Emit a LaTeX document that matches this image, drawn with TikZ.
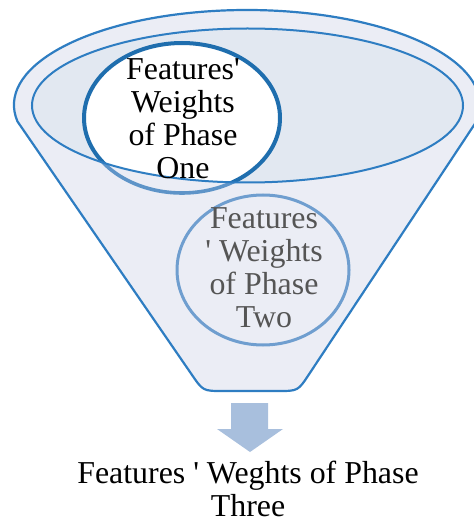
\documentclass[tikz,border=0pt]{standalone}
\usepackage{fontspec}
\setmainfont{Liberation Serif}[Ligatures=TeXOff]
\usetikzlibrary{calc}

\definecolor{funnelfill}{HTML}{EBEDF5}
\definecolor{rimfill}{HTML}{E2E8F1}
\definecolor{rimline}{HTML}{2E7DC2}
\definecolor{oneline}{HTML}{1F6EAE}
\definecolor{onelow}{HTML}{5E94C8}
\definecolor{twoline}{HTML}{6F9ECF}
\definecolor{twotext}{HTML}{555555}
\definecolor{arrowfill}{HTML}{A8BFDD}

\tikzset{
  rim/.style={draw=rimline, line width=2.2bp},
  label/.style={inner sep=0pt, align=center, font=\fontsize{32}{33.3}\selectfont},
}

\begin{document}
\begin{tikzpicture}[x=1bp, y=-1bp]
  \useasboundingbox (0,0) rectangle (474,524);

  % funnel body: upper arc of the mouth, two sides and a rounded spout
  \path[fill=funnelfill, rim]
    (17.5,121.5) arc[start angle=170, end angle=370, x radius=233, y radius=95]
    -- (309,374.3) .. controls (298,391) .. (278,391)
    -- (223,391) .. controls (203,391) .. (191.7,374.5)
    -- cycle;

  % lower part of the first bubble, seen through the funnel wall
  \coordinate (c1) at (182,118);
  \draw[draw=onelow, line width=3.6bp] (c1) ellipse[x radius=98, y radius=75];

  % mouth of the funnel
  \coordinate (mouth) at (247.5,105.5);
  \fill[rimfill] (mouth) ellipse[x radius=215.5, y radius=77];

  % first bubble inside the mouth
  \begin{scope}
    \clip (mouth) ellipse[x radius=215.5, y radius=77];
    \draw[fill=white, draw=oneline, line width=4bp] (c1) ellipse[x radius=98, y radius=75];
  \end{scope}
  \draw[rim, line width=2bp] (mouth) ellipse[x radius=215.5, y radius=77];

  % second bubble
  \coordinate (c2) at (263,270);
  \draw[draw=twoline, line width=3bp] (c2) ellipse[x radius=86, y radius=75];

  % labels
  \node[label] (one) at (183,118.5) {Features'\\Weights\\of Phase\\One};
  \node[label, text=twotext] (two) at (264,267.5) {Features\\' Weights\\of Phase\\Two};

  % output arrow
  \node[label] (three) at (248,489) {Features ' Weghts of Phase\\Three};
  \fill[arrowfill] (231,403) -- (268,403) -- (268,429) -- (283,429)
    -- (250,452) -- (217,429) -- (231,429) -- cycle;
\end{tikzpicture}
\end{document}
